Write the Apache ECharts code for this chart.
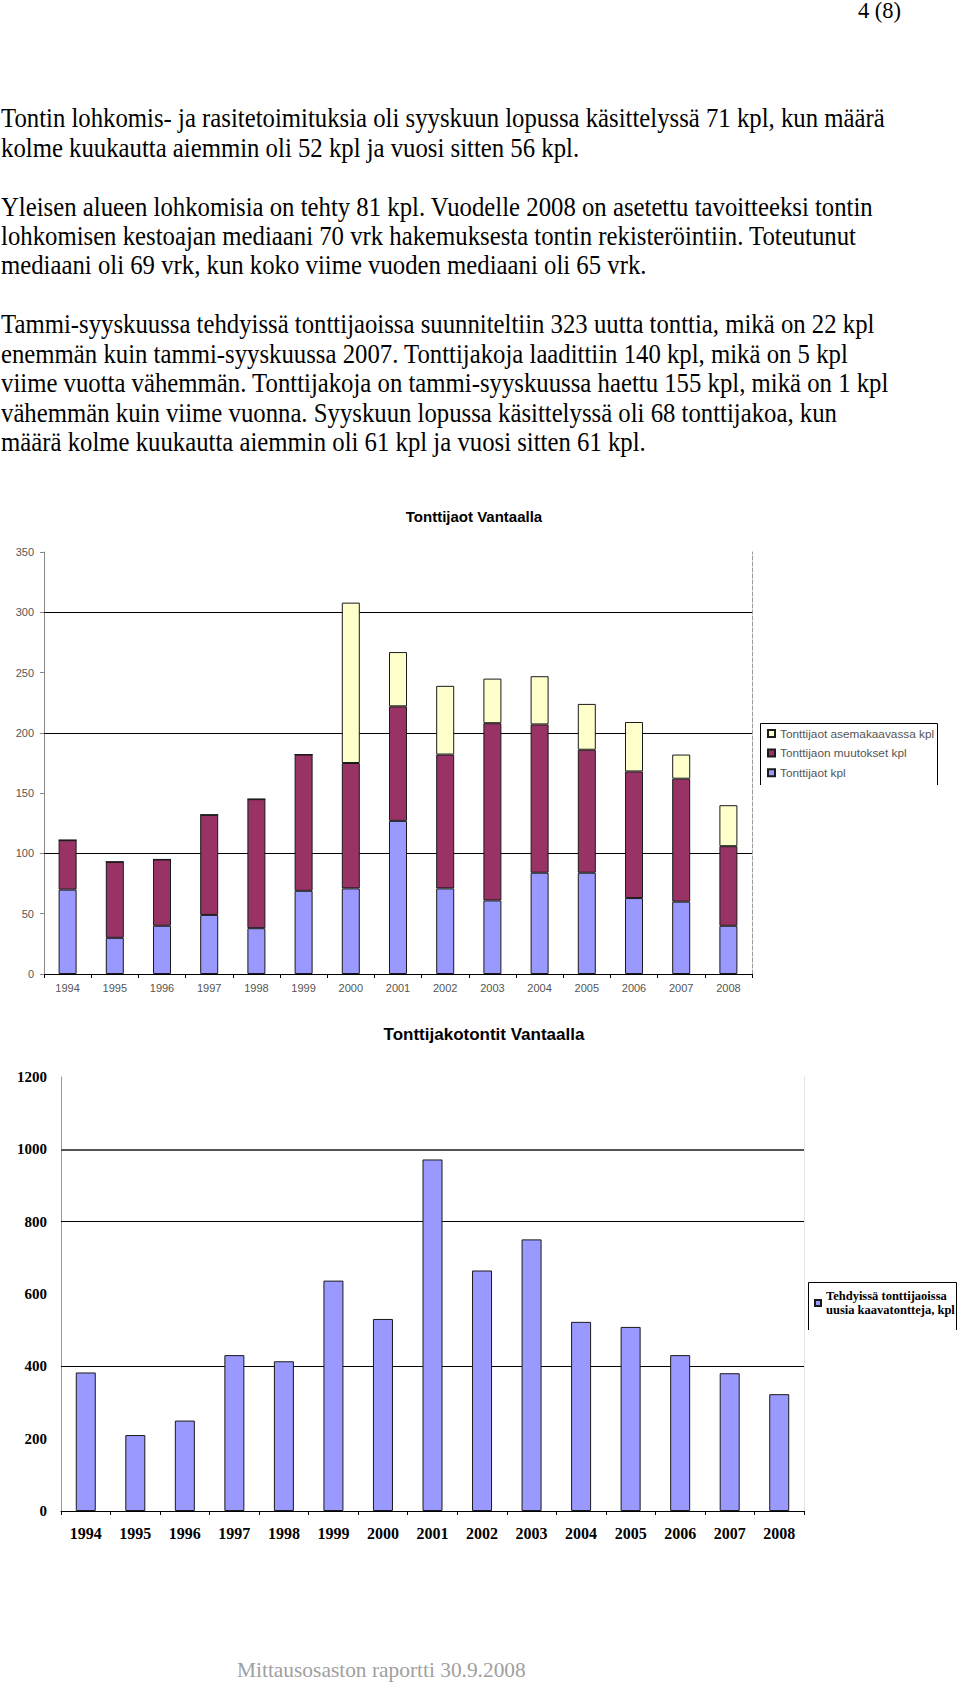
<!DOCTYPE html>
<html>
<head>
<meta charset="utf-8">
<script src="https://cdn.jsdelivr.net/npm/echarts@6/dist/echarts.min.js"></script>
<style>
  html, body { margin:0; padding:0; background:#fff; }
  body { width:960px; height:1686px; position:relative; overflow:hidden; }
  #chart { position:absolute; left:0; top:0; width:960px; height:1686px; }
  .ln { position:absolute; left:1px; white-space:nowrap; font-family:'Liberation Serif','Times New Roman',serif; font-size:24.75px; line-height:30px; color:#000; transform:scaleY(1.1); transform-origin:0 23.35px; }
  #hdr { position:absolute; right:59px; top:-2px; white-space:nowrap; font-family:'Liberation Serif','Times New Roman',serif; font-size:22.5px; line-height:26px; color:#000; }
  #ftr { position:absolute; left:237px; top:1657px; white-space:nowrap; font-family:'Liberation Serif','Times New Roman',serif; font-size:21.4px; line-height:26px; color:#a0a0a0; }
</style>
</head>
<body>
<div id="chart"></div>
<div id="hdr">4 (8)</div>
<div id="text"></div>
<div id="ftr">Mittausosaston raportti 30.9.2008</div>
<script>
// ---- data ----
const years = ['1994','1995','1996','1997','1998','1999','2000','2001','2002','2003','2004','2005','2006','2007','2008'];
const tonttijaotKpl = [70, 30, 40, 49, 38, 69, 71, 127, 71, 61, 84, 84, 63, 60, 40];
const muutoksetKpl = [41, 63, 55, 83, 107, 113, 104, 95, 111, 147, 123, 102, 105, 102, 66];
const asemakaavassaKpl = [0, 0, 0, 0, 0, 0, 133, 45, 57, 37, 40, 38, 41, 20, 34];
const uudetTontit = [383, 210, 250, 431, 414, 637, 531, 972, 665, 751, 523, 509, 431, 381, 323];
const chart1Max = 350, chart1Step = 50;
const chart2Max = 1200, chart2Step = 200;
const chart1GridValues = [100, 200, 300];
const chart2GridValues = [400, 800, 1000];
const name1 = 'Tonttijaot kpl';
const name2 = 'Tonttijaon muutokset kpl';
const name3 = 'Tonttijaot asemakaavassa kpl';
const name4 = 'Tehdyissä tonttijaoissa uusia kaavatontteja, kpl';
const title1 = 'Tonttijaot Vantaalla';
const title2 = 'Tonttijakotontit Vantaalla';
const paragraphLines = [
  [0, 'Tontin lohkomis- ja rasitetoimituksia oli syyskuun lopussa käsittelyssä 71 kpl, kun määrä'],
  [1, 'kolme kuukautta aiemmin oli 52 kpl ja vuosi sitten 56 kpl.'],
  [3, 'Yleisen alueen lohkomisia on tehty 81 kpl. Vuodelle 2008 on asetettu tavoitteeksi tontin'],
  [4, 'lohkomisen kestoajan mediaani 70 vrk hakemuksesta tontin rekisteröintiin. Toteutunut'],
  [5, 'mediaani oli 69 vrk, kun koko viime vuoden mediaani oli 65 vrk.'],
  [7, 'Tammi-syyskuussa tehdyissä tonttijaoissa suunniteltiin 323 uutta tonttia, mikä on 22 kpl'],
  [8, 'enemmän kuin tammi-syyskuussa 2007. Tonttijakoja laadittiin 140 kpl, mikä on 5 kpl'],
  [9, 'viime vuotta vähemmän. Tonttijakoja on tammi-syyskuussa haettu 155 kpl, mikä on 1 kpl'],
  [10, 'vähemmän kuin viime vuonna. Syyskuun lopussa käsittelyssä oli 68 tonttijakoa, kun'],
  [11, 'määrä kolme kuukautta aiemmin oli 61 kpl ja vuosi sitten 61 kpl.']
];

// ---- paragraph text ----
const textBox = document.getElementById('text');
paragraphLines.forEach(function (l) {
  const d = document.createElement('div');
  d.className = 'ln';
  d.style.top = (127.5 + 29.45 * l[0] - 23.35) + 'px';
  d.textContent = l[1];
  textBox.appendChild(d);
});

// ---- chart ----
const chart = echarts.init(document.getElementById('chart'), null, { renderer: 'svg', width: 960, height: 1686 });
const sans = "'Liberation Sans', Arial, sans-serif";
const serif = "'Liberation Serif', 'Times New Roman', serif";
const border = { borderColor: '#1a1a1a', borderWidth: 1 };
const plain = function (v) { return String(v); };

function gridMarks(values, styles) {
  return {
    silent: true, z: 1, symbol: 'none', animation: false,
    label: { show: false },
    data: values.map(function (v, i) { return { yAxis: v, lineStyle: styles[i] }; })
  };
}

const option = {
  animation: false,
  graphic: [
    { type: 'text', x: 474, y: 516, style: { text: title1, font: 'bold 15px ' + sans, fill: '#000', textAlign: 'center', textVerticalAlign: 'middle' } },
    { type: 'text', x: 484, y: 1034, style: { text: title2, font: 'bold 17px ' + sans, fill: '#000', textAlign: 'center', textVerticalAlign: 'middle' } },
    { type: 'polyline', shape: { points: [[760.5, 785], [760.5, 723.5], [937.5, 723.5], [937.5, 785]] }, style: { stroke: '#000', lineWidth: 1, fill: 'none' } },
    { type: 'polyline', shape: { points: [[808.5, 1330], [808.5, 1282.5], [956.5, 1282.5], [956.5, 1330]] }, style: { stroke: '#000', lineWidth: 1, fill: 'none' } }
  ],
  legend: [
    {
      data: [name3, name2, name1], orient: 'vertical', left: 767, top: 727, padding: 0,
      itemWidth: 7, itemHeight: 7, itemGap: 6.6, icon: 'rect', selectedMode: false,
      textStyle: { fontFamily: sans, fontSize: 11.8, color: '#555', lineHeight: 13 }
    },
    {
      data: [name4], orient: 'vertical', left: 814, top: 1289, padding: 0,
      itemWidth: 6, itemHeight: 6, icon: 'rect', selectedMode: false,
      formatter: function (n) { return n.replace(' uusia', '\nuusia'); },
      textStyle: { fontFamily: serif, fontWeight: 'bold', fontSize: 12.5, color: '#000', lineHeight: 14 }
    }
  ],
  grid: [
    { left: 44, top: 552, width: 708, height: 422 },
    { left: 61, top: 1077, width: 743, height: 434 }
  ],
  xAxis: [
    {
      gridIndex: 0, type: 'category', data: years,
      axisLine: { lineStyle: { color: '#000', width: 1 } },
      axisTick: { show: true, length: 4, lineStyle: { color: '#000' } },
      axisLabel: { margin: 8, fontSize: 11, color: '#555', fontFamily: sans }
    },
    {
      gridIndex: 1, type: 'category', data: years,
      axisLine: { lineStyle: { color: '#000', width: 1 } },
      axisTick: { show: true, length: 4, lineStyle: { color: '#000' } },
      axisLabel: { margin: 14, fontSize: 16, fontWeight: 'bold', color: '#000', fontFamily: serif }
    }
  ],
  yAxis: [
    {
      gridIndex: 0, type: 'value', min: 0, max: chart1Max, interval: chart1Step,
      axisLine: { show: true, lineStyle: { color: '#888' } },
      axisTick: { show: true, length: 4, lineStyle: { color: '#888' } },
      splitLine: { show: false },
      axisLabel: { margin: 10, fontSize: 11, color: '#555', fontFamily: sans, formatter: plain }
    },
    {
      gridIndex: 0, type: 'value', position: 'right', min: 0, max: chart1Max, interval: chart1Step,
      axisLine: { show: true, lineStyle: { color: '#999', type: 'dashed' } },
      axisTick: { show: false }, axisLabel: { show: false }, splitLine: { show: false }
    },
    {
      gridIndex: 1, type: 'value', min: 0, max: chart2Max, interval: chart2Step,
      axisLine: { show: true, lineStyle: { color: '#999' } },
      axisTick: { show: false },
      splitLine: { show: false },
      axisLabel: { margin: 14, fontSize: 15, fontWeight: 'bold', color: '#000', fontFamily: serif, formatter: plain }
    },
    {
      gridIndex: 1, type: 'value', position: 'right', min: 0, max: chart2Max, interval: chart2Step,
      axisLine: { show: true, lineStyle: { color: '#e2e2e2' } },
      axisTick: { show: false }, axisLabel: { show: false }, splitLine: { show: false }
    }
  ],
  series: [
    {
      name: name1, type: 'bar', stack: 'a', xAxisIndex: 0, yAxisIndex: 0, barWidth: 18,
      itemStyle: Object.assign({ color: '#9999FF' }, border), data: tonttijaotKpl,
      markLine: gridMarks(chart1GridValues, chart1GridValues.map(function () { return { color: '#000', width: 1, type: 'solid' }; }))
    },
    {
      name: name2, type: 'bar', stack: 'a', xAxisIndex: 0, yAxisIndex: 0, barWidth: 18,
      itemStyle: Object.assign({ color: '#993366' }, border), data: muutoksetKpl
    },
    {
      name: name3, type: 'bar', stack: 'a', xAxisIndex: 0, yAxisIndex: 0, barWidth: 18,
      itemStyle: Object.assign({ color: '#FFFFCC' }, border), data: asemakaavassaKpl
    },
    {
      name: name4, type: 'bar', xAxisIndex: 1, yAxisIndex: 2, barWidth: 20,
      itemStyle: Object.assign({ color: '#9999FF' }, border), data: uudetTontit,
      markLine: gridMarks(chart2GridValues, [
        { color: '#000', width: 1, type: 'solid' },
        { color: '#000', width: 1, type: 'solid' },
        { color: '#555', width: 2, type: 'solid' }
      ])
    }
  ]
};
chart.setOption(option);
</script>
</body>
</html>
